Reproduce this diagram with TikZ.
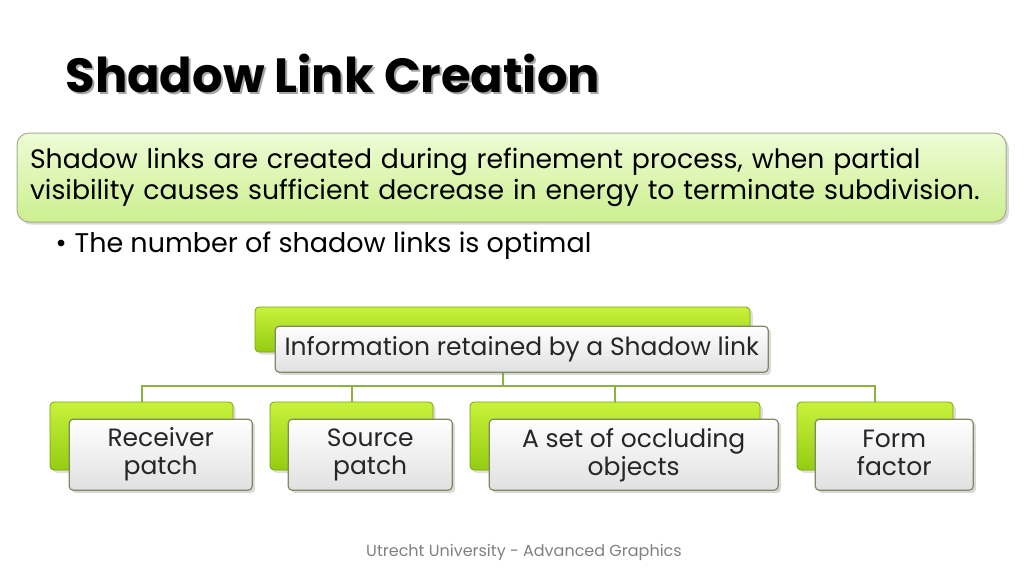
\documentclass[tikz,border=0pt]{standalone}
\usepackage{fontspec}
\setmainfont{Poppins}
\usetikzlibrary{positioning, backgrounds, shadows}

\definecolor{lime}{HTML}{94CC12}
\definecolor{limetop}{HTML}{C8F23A}
\definecolor{limeline}{HTML}{8DB33A}
\definecolor{paletop}{HTML}{EEFCD6}
\definecolor{palebot}{HTML}{CCEF8E}
\definecolor{greyedge}{HTML}{7E8A66}

\tikzstyle{greenbox} = [rectangle, rounded corners=4pt, draw=lime!80!black, line width=0.8pt,
    top color=limetop, bottom color=lime, drop shadow={opacity=0.25}]
\tikzstyle{greybox} = [rectangle, rounded corners=4pt, draw=greyedge, line width=1.2pt,
    top color=white, bottom color=black!12, drop shadow={opacity=0.3}, align=center,
    font=\fontsize{25}{28}\selectfont, text=black!85]
\tikzstyle{link} = [draw=limeline, line width=2pt]

\begin{document}
\begin{tikzpicture}[x=1pt, y=-1pt]
    \useasboundingbox (0,0) rectangle (1024,576);

    % title with its shadow
    \node[anchor=base west, text=black!35, font=\fontsize{48}{54}\selectfont\bfseries] at (64,94) {Shadow Link Creation};
    \node[anchor=base west, font=\fontsize{48}{54}\selectfont\bfseries] (title) at (62,92) {Shadow Link Creation};

    % definition box
    \node[rectangle, rounded corners=12pt, draw=greyedge!70, line width=1pt, top color=paletop, bottom color=palebot,
        drop shadow={opacity=0.3}, minimum width=989pt, minimum height=89pt, text width=963pt, align=left,
        font=\fontsize{26.7}{31}\selectfont] (def) at (511.5,177.5)
        {Shadow links are created during refinement process, when partial\\
         visibility causes sufficient decrease in energy to terminate subdivision.};

    \node[anchor=base west, font=\fontsize{27}{30}\selectfont] (bullet) at (52,252)
        {\textbullet\hspace{8pt}The number of shadow links is optimal};

    % hierarchy
    \node[greenbox, minimum width=495pt, minimum height=45pt] (topg) at (502.5,329.5) {};
    \node[greybox, anchor=north west, minimum width=493pt, minimum height=46pt] (info)
        at ([shift={(20,19)}]topg.north west) {Information retained by a Shadow link};

    \node[greenbox, minimum width=183pt, minimum height=68pt] (g1) at (141.5,436) {};
    \node[greenbox, minimum width=163pt, minimum height=68pt] (g2) at (351.5,436) {};
    \node[greenbox, minimum width=290pt, minimum height=68pt] (g3) at (615,436) {};
    \node[greenbox, minimum width=156pt, minimum height=68pt] (g4) at (875,436) {};

    \node[greybox, anchor=north west, minimum width=183pt, minimum height=71pt] (receiver)
        at ([shift={(19,17)}]g1.north west) {Receiver\\patch};
    \node[greybox, anchor=north west, minimum width=164pt, minimum height=71pt] (source)
        at ([shift={(18,17)}]g2.north west) {Source\\patch};
    \node[greybox, anchor=north west, minimum width=289pt, minimum height=71pt] (occluders)
        at ([shift={(19,17)}]g3.north west) {A set of occluding\\objects};
    \node[greybox, anchor=north west, minimum width=158pt, minimum height=71pt] (formfactor)
        at ([shift={(18,17)}]g4.north west) {Form\\factor\vspace{4pt}};

    \coordinate (bar) at (502.5,386);
    \begin{scope}[on background layer]
        \path[link] (topg.south) -- (bar)
            (bar) -| (g1.north)
            (bar) -| (g2.north)
            (bar) -| (g3.north)
            (bar) -| (g4.north);
    \end{scope}

    \node[anchor=base, text=black!50, font=\fontsize{16}{18}\selectfont] (footer) at (524,556)
        {Utrecht University - Advanced Graphics};

\end{tikzpicture}
\end{document}
